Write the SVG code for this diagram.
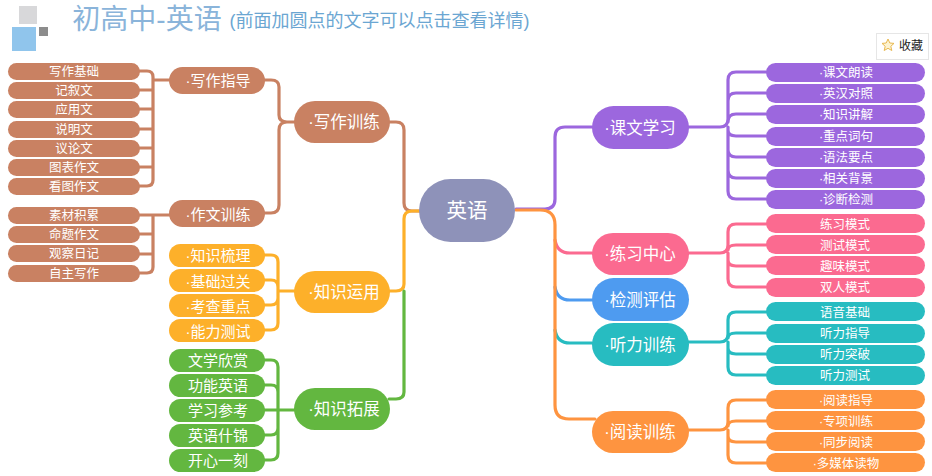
<svg xmlns="http://www.w3.org/2000/svg" width="932" height="476" viewBox="0 0 932 476">
<style>
text{font-family:"Liberation Sans","Noto Sans CJK SC",sans-serif;text-anchor:middle;dominant-baseline:central;fill:#fff;transform:translateY(1px)}
.l{font-size:12.5px}.m{font-size:15px}.b{font-size:16.5px}
.c path{fill:none;stroke-width:3.2;stroke-linecap:round}
.w{fill:#c98162}.w2{stroke:#c98162}.y{fill:#fdb02a}.y2{stroke:#fdb02a}.g{fill:#63b740}.g2{stroke:#63b740}
.p{fill:#9c67de}.p2{stroke:#9c67de}.r{fill:#fb6a90}.r2{stroke:#fb6a90}.u{fill:#4e9bf0}.u2{stroke:#4e9bf0}.t{fill:#27bcc1}.t2{stroke:#27bcc1}.o{fill:#fe9440}.o2{stroke:#fe9440}
</style>
<rect width="932" height="476" fill="#fff"/>
<g id="logo"><rect x="19" y="6" width="18" height="18" fill="#d8d8da"/><rect x="12" y="27" width="24" height="24" fill="#90c5ec"/><rect x="39" y="27" width="9" height="9" fill="#8c8c8c"/></g>
<g id="title"><text x="147" y="18" style="font-size:28px;fill:#8ab4da">初高中-英语</text><text x="379.500" y="20" style="font-size:18px;fill:#6ba6d2">(前面加圆点的文字可以点击查看详情)</text></g>
<g id="fav"><rect x="876.500" y="33.500" width="52" height="26" fill="#fff" stroke="#e6e6e6"/><path d="M888 39l1.800 4 4.200.4-3.200 2.900 1 4.200-3.800-2.200-3.800 2.200 1-4.200-3.200-2.900 4.200-.4z" fill="#fdf3d0" stroke="#e8b850"/><text x="911" y="45" style="font-size:12px;fill:#222">收藏</text></g>
<g class="c" id="connectors">
<path class="w2" d="M139 71H147Q153 71 153 77V180Q153 186 147 186H139M139 90H153M139 109H153M139 129H153M139 148H153M139 167H153M153 80H170"/>
<path class="w2" d="M139 215H170M139 234H153M139 254H153M139 273H147Q153 273 153 267V215"/>
<path class="w2" d="M264 80H271Q279 80 279 87V115Q279 122 287 122H295M264 213H271Q279 213 279 205V130Q279 122 287 122"/>
<path class="y2" d="M264 255H271Q278 255 278 262V323Q278 330 271 330H264M264 280H271Q278 280 278 287M264 305H271Q278 305 278 298M278 291H295"/>
<path class="g2" d="M264 360H271Q278 360 278 367V453Q278 460 271 460H264M264 385H271Q278 385 278 392M264 410H295M264 435H271Q278 435 278 428"/>
<path class="w2" d="M389 122H396Q404 122 404 130V203Q404 211 412 211H420"/>
<path class="y2" d="M389 291H396Q404 291 404 284V219Q404 211 412 211H420"/>
<path class="g2" d="M389 399H396Q404 399 404 392V291"/>
<path class="p2" d="M516 209H545Q555 209 555 199V137Q555 127 565 127H592"/>
<path class="r2" d="M555 240Q557 253 570 253H592"/>
<path class="u2" d="M555 287Q557 300 570 300H592"/>
<path class="t2" d="M555 330Q557 343 570 343H592"/>
<path class="o2" d="M516 210H540Q555 210 555 225V405Q555 419 569 419H595"/>
<path class="p2" d="M688 127H720Q728 127 728 119V80Q728 72 736 72H766M728 127V191Q728 199 736 199H766M766 93H736Q728 93 728 101M766 114H736Q728 114 728 122M766 136H736Q728 136 728 130M766 157H736Q728 157 728 150M766 178H736Q728 178 728 170"/>
<path class="r2" d="M688 253H720Q728 253 728 245V232Q728 224 736 224H766M728 253V279Q728 287 736 287H766M766 245H736Q728 245 728 250M766 266H736Q728 266 728 260"/>
<path class="t2" d="M688 342H720Q728 342 728 334V320Q728 312 736 312H766M728 342V367Q728 375 736 375H766M766 333H736Q728 333 728 338M766 354H736Q728 354 728 348"/>
<path class="o2" d="M688 430H720Q728 430 728 422V408Q728 400 736 400H766M728 430V455Q728 463 736 463H766M766 421H736Q728 421 728 426M766 442H736Q728 442 728 436"/>
</g>
<g id="root"><rect x="419" y="179" width="96" height="63" rx="31.500" fill="#8e92b9"/><text x="467" y="209" style="font-size:20.500px">英语</text></g>
<g id="n-xzzd"><rect class="w" x="169" y="67" width="96" height="27" rx="13.500"/><text class="m" x="218" y="79.500">·写作指导</text></g>
<g id="n-zwxl"><rect class="w" x="169" y="200" width="96" height="27" rx="13.500"/><text class="m" x="218" y="213">·作文训练</text></g>
<g id="n-xzxl"><rect class="w" x="294" y="101" width="96" height="42" rx="21"/><text class="b" x="344" y="121">·写作训练</text></g>
<g id="n-zsyy"><rect class="y" x="294" y="271" width="96" height="42" rx="21"/><text class="b" x="344" y="290.500">·知识运用</text></g>
<g id="n-zstz"><rect class="g" x="294" y="388" width="96" height="42" rx="21"/><text class="b" x="344" y="407.500">·知识拓展</text></g>
<g id="n-kwxx"><rect class="p" x="592" y="106" width="97" height="43" rx="21.500"/><text class="b" x="640" y="126.500">·课文学习</text></g>
<g id="n-lxzx"><rect class="r" x="592" y="233" width="97" height="42" rx="21"/><text class="b" x="640" y="253">·练习中心</text></g>
<g id="n-jcpg"><rect class="u" x="592" y="278" width="97" height="43" rx="21.500"/><text class="b" x="640" y="298.500">·检测评估</text></g>
<g id="n-tlxl"><rect class="t" x="592" y="323" width="97" height="43" rx="21.500"/><text class="b" x="640" y="343.500">·听力训练</text></g>
<g id="n-ydxl"><rect class="o" x="592" y="411" width="97" height="42" rx="21"/><text class="b" x="640" y="431">·阅读训练</text></g>
<g id="leaves-w" class="l">
<g id="w1"><rect class="w" x="8" y="63" width="132" height="17" rx="8.500"/><text x="74" y="71">写作基础</text></g>
<g id="w2"><rect class="w" x="8" y="82" width="132" height="17" rx="8.500"/><text x="74" y="90">记叙文</text></g>
<g id="w3"><rect class="w" x="8" y="101" width="132" height="17" rx="8.500"/><text x="74" y="109">应用文</text></g>
<g id="w4"><rect class="w" x="8" y="121" width="132" height="17" rx="8.500"/><text x="74" y="129">说明文</text></g>
<g id="w5"><rect class="w" x="8" y="140" width="132" height="17" rx="8.500"/><text x="74" y="148">议论文</text></g>
<g id="w6"><rect class="w" x="8" y="159" width="132" height="17" rx="8.500"/><text x="74" y="167">图表作文</text></g>
<g id="w7"><rect class="w" x="8" y="178" width="132" height="17" rx="8.500"/><text x="74" y="186">看图作文</text></g>
<g id="w8"><rect class="w" x="8" y="207" width="132" height="17" rx="8.500"/><text x="74" y="215">素材积累</text></g>
<g id="w9"><rect class="w" x="8" y="226" width="132" height="17" rx="8.500"/><text x="74" y="234">命题作文</text></g>
<g id="w10"><rect class="w" x="8" y="245" width="132" height="17" rx="8.500"/><text x="74" y="253">观察日记</text></g>
<g id="w11"><rect class="w" x="8" y="265" width="132" height="17" rx="8.500"/><text x="74" y="273">自主写作</text></g>
</g>
<g id="leaves-y" class="m">
<g id="y1"><rect class="y" x="169" y="244" width="96" height="23" rx="11.500"/><text x="218" y="254.500">·知识梳理</text></g>
<g id="y2"><rect class="y" x="169" y="269" width="96" height="23" rx="11.500"/><text x="218" y="280.500">·基础过关</text></g>
<g id="y3"><rect class="y" x="169" y="294" width="96" height="23" rx="11.500"/><text x="218" y="305.500">·考查重点</text></g>
<g id="y4"><rect class="y" x="169" y="319" width="96" height="23" rx="11.500"/><text x="218" y="330.500">·能力测试</text></g>
</g>
<g id="leaves-g" class="m">
<g id="g1"><rect class="g" x="169" y="349" width="96" height="23" rx="11.500"/><text x="218" y="359.500">文学欣赏</text></g>
<g id="g2"><rect class="g" x="169" y="374" width="96" height="23" rx="11.500"/><text x="218" y="384.500">功能英语</text></g>
<g id="g3"><rect class="g" x="169" y="399" width="96" height="23" rx="11.500"/><text x="218" y="409.500">学习参考</text></g>
<g id="g4"><rect class="g" x="169" y="424" width="96" height="23" rx="11.500"/><text x="218" y="434.500">英语什锦</text></g>
<g id="g5"><rect class="g" x="169" y="449" width="96" height="23" rx="11.500"/><text x="218" y="459.500">开心一刻</text></g>
</g>
<g id="leaves-p" class="l">
<g id="p1"><rect class="p" x="766" y="63" width="159" height="19" rx="9.500"/><text x="846" y="71.500">·课文朗读</text></g>
<g id="p2"><rect class="p" x="766" y="84" width="159" height="19" rx="9.500"/><text x="846" y="92.500">·英汉对照</text></g>
<g id="p3"><rect class="p" x="766" y="105" width="159" height="19" rx="9.500"/><text x="846" y="113.500">·知识讲解</text></g>
<g id="p4"><rect class="p" x="766" y="127" width="159" height="19" rx="9.500"/><text x="846" y="135.500">·重点词句</text></g>
<g id="p5"><rect class="p" x="766" y="148" width="159" height="19" rx="9.500"/><text x="846" y="156.500">·语法要点</text></g>
<g id="p6"><rect class="p" x="766" y="169" width="159" height="19" rx="9.500"/><text x="846" y="177.500">·相关背景</text></g>
<g id="p7"><rect class="p" x="766" y="190" width="159" height="19" rx="9.500"/><text x="846" y="198.500">·诊断检测</text></g>
</g>
<g id="leaves-r" class="l">
<g id="r1"><rect class="r" x="766" y="214" width="159" height="19" rx="9.500"/><text x="845" y="223.500">练习模式</text></g>
<g id="r2"><rect class="r" x="766" y="235" width="159" height="19" rx="9.500"/><text x="845" y="244.500">测试模式</text></g>
<g id="r3"><rect class="r" x="766" y="256" width="159" height="19" rx="9.500"/><text x="845" y="265.500">趣味模式</text></g>
<g id="r4"><rect class="r" x="766" y="278" width="159" height="19" rx="9.500"/><text x="845" y="286.500">双人模式</text></g>
</g>
<g id="leaves-t" class="l">
<g id="t1"><rect class="t" x="766" y="302" width="159" height="19" rx="9.500"/><text x="845" y="311.500">语音基础</text></g>
<g id="t2"><rect class="t" x="766" y="324" width="159" height="19" rx="9.500"/><text x="845" y="332.500">听力指导</text></g>
<g id="t3"><rect class="t" x="766" y="345" width="159" height="19" rx="9.500"/><text x="845" y="353.500">听力突破</text></g>
<g id="t4"><rect class="t" x="766" y="366" width="159" height="19" rx="9.500"/><text x="845" y="374.500">听力测试</text></g>
</g>
<g id="leaves-o" class="l">
<g id="o1"><rect class="o" x="766" y="390" width="159" height="19" rx="9.500"/><text x="846" y="399.500">·阅读指导</text></g>
<g id="o2"><rect class="o" x="766" y="411" width="159" height="19" rx="9.500"/><text x="846" y="420.500">·专项训练</text></g>
<g id="o3"><rect class="o" x="766" y="432" width="159" height="19" rx="9.500"/><text x="846" y="441.500">·同步阅读</text></g>
<g id="o4"><rect class="o" x="766" y="453" width="159" height="19" rx="9.500"/><text x="846" y="462.500">·多媒体读物</text></g>
</g>
</svg>
